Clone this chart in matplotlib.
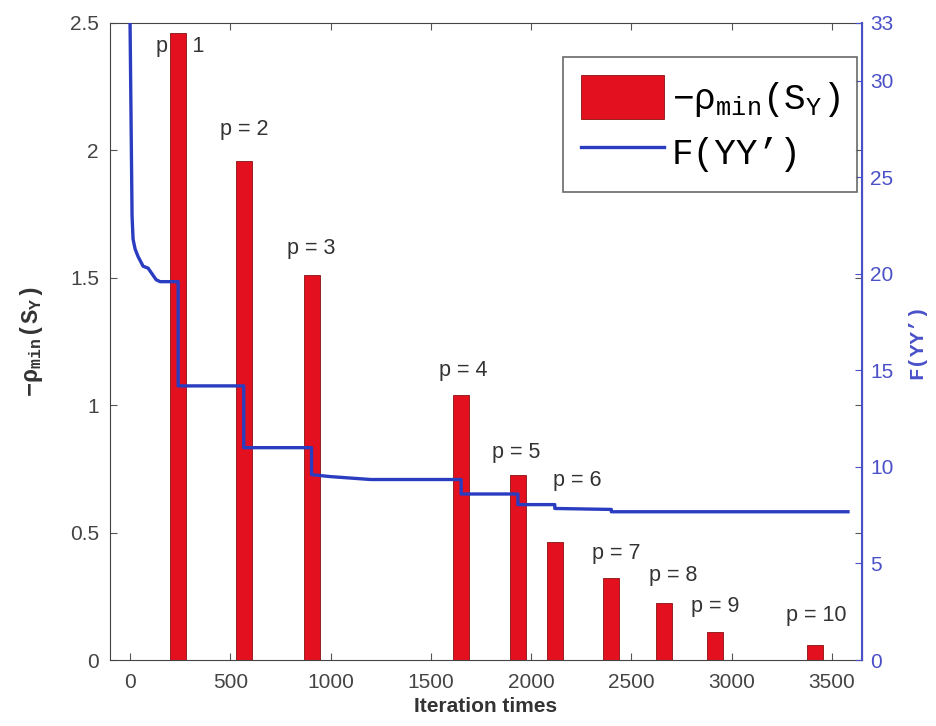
import numpy as np
import matplotlib
matplotlib.use('Agg')
import matplotlib.pyplot as plt

# bar data: -rho_min(S_Y) at each p
p_labels = ['p = 1', 'p = 2', 'p = 3', 'p = 4', 'p = 5', 'p = 6', 'p = 7', 'p = 8', 'p = 9', 'p = 10']
bar_x = [240, 567, 905, 1651, 1934, 2118, 2397, 2665, 2919, 3416]
bar_h = [2.46, 1.96, 1.51, 1.04, 0.725, 0.465, 0.32, 0.225, 0.11, 0.06]

# F(YY') curve
f_x = [0, 5, 10, 15, 25, 40, 65, 90, 110, 130, 150, 240, 240, 567, 567, 905, 905, 1000, 1200, 1651, 1651, 1934, 1934,
       2118, 2118, 2400, 2400, 3580]
f_y = [33, 28, 23, 21.8, 21.3, 20.9, 20.4, 20.3, 20.0, 19.7, 19.6, 19.6, 14.2, 14.2, 11.0, 11.0, 9.6, 9.5, 9.35, 9.35,
       8.6, 8.6, 8.05, 8.05, 7.85, 7.8, 7.68, 7.68]

red = '#e3101f'
blue = '#2a3cc0'
axblue = '#4a50c8'
grey = '#333333'

plt.rcParams['font.family'] = ['Liberation Sans', 'DejaVu Sans']
plt.rcParams['mathtext.fontset'] = 'custom'
plt.rcParams['mathtext.rm'] = 'Liberation Mono'
plt.rcParams['mathtext.it'] = 'Liberation Mono'
plt.rcParams['mathtext.bf'] = 'Liberation Mono:bold'

leg_label = r'$\mathrm{-ρ_{min}(S_Y)}$'
y_label = r'$\mathbf{-ρ_{min}(S_Y)}$'

fig = plt.figure(figsize=(9.36, 7.26), dpi=100)
ax1 = fig.add_axes([110 / 936, 1 - 660 / 726, (862 - 110) / 936, (660 - 23) / 726])
ax2 = ax1.twinx()

bars = ax1.bar(bar_x, bar_h, width=80, color=red, edgecolor='#8a1010', linewidth=0.6, zorder=2)
# label offsets in pixels (dx, dy) from bar top to text centre
offs = [(2, -13), (0, 31), (0, 27), (2, 25), (-2, 23), (22, 61), (6, 25), (9, 27), (0, 25), (1, 29)]
for xx, hh, lab, (dx, dy) in zip(bar_x, bar_h, p_labels, offs):
    ax1.annotate(lab, (xx, hh), xytext=(dx, dy), textcoords='offset pixels',
                 ha='center', va='center', fontsize=15.5, color=grey, zorder=1)

line, = ax2.plot(f_x, f_y, color=blue, linewidth=2.4, zorder=3)

ax1.set_xlim(-100, 3650)
ax1.set_ylim(0, 2.5)
ax2.set_ylim(0, 33)
ax1.set_xticks([0, 500, 1000, 1500, 2000, 2500, 3000, 3500])
ax1.set_yticks([0, 0.5, 1, 1.5, 2, 2.5])
ax1.set_yticklabels(['0', '0.5', '1', '1.5', '2', '2.5'])
ax2.set_yticks([0, 5, 10, 15, 20, 25, 30, 33])

ax1.tick_params(axis='both', direction='in', labelsize=15, colors='#555555', labelcolor='#444444',
                top=True, right=True, length=5)
ax1.tick_params(axis='x', pad=9)
ax1.tick_params(axis='y', pad=8)
ax2.tick_params(axis='y', direction='in', labelsize=15, colors=axblue, labelcolor=axblue, length=5, pad=6)
for s in ['left', 'bottom', 'top']:
    ax1.spines[s].set_color('#444444')
ax2.spines['right'].set_color(axblue)
ax2.spines['right'].set_linewidth(1.5)
for s in ['left', 'bottom', 'top']:
    ax2.spines[s].set_visible(False)

ax1.set_xlabel('Iteration times', fontsize=15, fontweight='bold', color=grey, labelpad=4)
ax1.set_ylabel(y_label, fontsize=17, color=grey, labelpad=18)
ax2.set_ylabel("F(YY’)", fontsize=15, fontweight='bold', color=axblue, family='Liberation Mono', labelpad=10)

leg = ax2.legend([bars, line], [leg_label, "F(YY’)"], loc='upper right',
                 bbox_to_anchor=(0.994, 0.947), prop={'family': 'Liberation Mono', 'size': 26},
                 fancybox=False, edgecolor='#444444', handlelength=2.3, handleheight=1.5, borderpad=0.5,
                 labelspacing=0.3, handletextpad=0.2, borderaxespad=0)
leg.get_frame().set_linewidth(1.2)

fig.savefig('out.png', dpi=100)
